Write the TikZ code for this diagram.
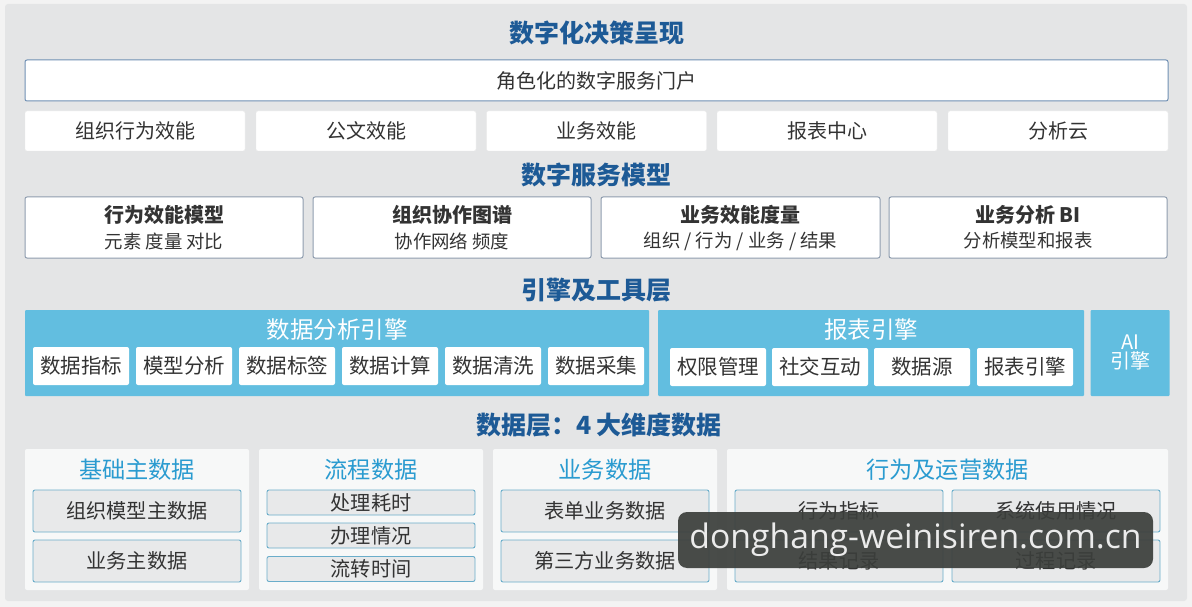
\documentclass[tikz,border=0pt]{standalone}
\usepackage{fontspec}
\setmainfont{Noto Sans CJK SC}
\newfontfamily\wmfont{Open Sans}
\definecolor{pagebg}{HTML}{F3F3F3}
\definecolor{panelbg}{HTML}{E4E5E6}
\definecolor{titleblue}{HTML}{1D5A96}
\definecolor{textdark}{HTML}{333333}
\definecolor{portalline}{HTML}{6F8FB3}
\definecolor{modelline}{HTML}{8E9CAE}
\definecolor{enginecyan}{HTML}{62BEE0}
\definecolor{datatitle}{HTML}{2A9BD0}
\definecolor{datapanel}{HTML}{F7F8F8}
\definecolor{databoxfill}{HTML}{E8E9EA}
\definecolor{databoxline}{HTML}{6AADCA}
\definecolor{wmbg}{HTML}{3B3E3B}
\tikzset{
  layertitle/.style={font=\fontsize{25}{27}\selectfont\bfseries, text=titleblue, inner sep=0pt},
  portalbox/.style={fill=white, draw=portalline, line width=1pt, rounded corners=2pt, inner sep=0pt,
    font=\fontsize{20}{22}\selectfont, text=textdark},
  appbox/.style={fill=white, draw=white!92!black, line width=0.4pt, rounded corners=2pt, inner sep=0pt,
    minimum width=220pt, minimum height=40pt, font=\fontsize{20}{22}\selectfont, text=textdark},
  modelbox/.style={fill=white, draw=modelline, line width=1pt, rounded corners=2pt, inner sep=0pt,
    minimum height=61pt},
  modeltitle/.style={font=\fontsize{20}{22}\selectfont\bfseries, text=textdark, inner sep=0pt},
  modelsub/.style={font=\fontsize{18.4}{20}\selectfont, text=textdark, inner sep=0pt},
  enginebox/.style={fill=enginecyan, draw=none, rounded corners=1pt, inner sep=0pt, minimum height=86pt},
  enginetitle/.style={font=\fontsize{23.5}{25}\selectfont, text=white, inner sep=0pt},
  chip/.style={fill=white, draw=none, rounded corners=2pt, inner sep=0pt, minimum height=38pt,
    font=\fontsize{20.5}{22}\selectfont, text=textdark},
  datapanelbox/.style={fill=datapanel, draw=none, rounded corners=2pt, inner sep=0pt, minimum height=141pt},
  datatitlebox/.style={font=\fontsize{23.2}{25}\selectfont, text=datatitle, inner sep=0pt},
  databox/.style={fill=databoxfill, draw=databoxline, line width=0.9pt, rounded corners=2pt, inner sep=0pt,
    minimum width=208pt, font=\fontsize{20.2}{22}\selectfont, text=textdark},
  watermark/.style={fill=wmbg, fill opacity=0.92, text opacity=1, draw=none, rounded corners=9pt,
    minimum width=475pt, minimum height=56pt, inner sep=0pt,
    font=\wmfont\fontsize{33.7}{36}\selectfont, text=white!92!black}
}
\begin{document}
\begin{tikzpicture}[x=1pt,y=-1pt]
\useasboundingbox (0,0) rectangle (1192,607);
\fill[pagebg] (0,0) rectangle (1192,607);
\fill[panelbg, rounded corners=3pt] (5,4) rectangle (1187,601);

% Layer 1
\node[layertitle] (t1) at (597,33) {数字化决策呈现};
\node[portalbox, minimum width=1143pt, minimum height=41pt] (portal) at (596.5,80.5) {角色化的数字服务门户};
\node[appbox] (a1) at (135,131) {组织行为效能};
\node[appbox] (a2) at (366,131) {公文效能};
\node[appbox] (a3) at (596.5,131) {业务效能};
\node[appbox] (a4) at (827,131) {报表中心};
\node[appbox] (a5) at (1058,131) {分析云};

% Layer 2
\node[layertitle] (t2) at (596,175) {数字服务模型};
\node[modelbox, minimum width=278pt] (m1) at (164,227.5) {};
\node[modelbox, minimum width=278pt] (m2) at (452,227.5) {};
\node[modelbox, minimum width=279pt] (m3) at (740.5,227.5) {};
\node[modelbox, minimum width=278pt] (m4) at (1028,227.5) {};
\node[modeltitle] (m1t) at ([yshift=12.5pt]m1.center) {行为效能模型};
\node[modelsub]   (m1s) at ([yshift=-13.5pt]m1.center) {元素 度量 对比};
\node[modeltitle] (m2t) at ([yshift=12.5pt]m2.center) {组织协作图谱};
\node[modelsub]   (m2s) at ([yshift=-13.5pt]m2.center) {协作网络 频度};
\node[modeltitle] (m3t) at ([yshift=12.5pt]m3.center) {业务效能度量};
\node[modelsub]   (m3s) at ([yshift=-13.5pt]m3.center) {组织 / 行为 / 业务 / 结果};
\node[modeltitle] (m4t) at ([yshift=12.5pt]m4.center) {业务分析 BI};
\node[modelsub]   (m4s) at ([yshift=-13.5pt]m4.center) {分析模型和报表};

% Layer 3
\node[layertitle] (t3) at (596,290) {引擎及工具层};
\node[enginebox, minimum width=624pt] (e1) at (337,353) {};
\node[enginebox, minimum width=426pt] (e2) at (871,353) {};
\node[enginebox, minimum width=79pt] (e3) at (1130,353) {};
\node[enginetitle] (e1t) at (337,330) {数据分析引擎};
\node[enginetitle] (e2t) at (871,330) {报表引擎};
\node[font=\fontsize{20}{22}\selectfont, text=white, align=center, inner sep=0pt] (e3t) at (1130,352) {AI\\[-3pt]引擎};
\foreach \n/\x/\t in {1/81/数据指标, 2/184/模型分析, 3/287/数据标签, 4/390/数据计算, 5/493/数据清洗, 6/596/数据采集}{
  \node[chip, minimum width=96pt] (c\n) at (\x,366) {\t};
}
\foreach \n/\x/\t in {1/718/权限管理, 2/820/社交互动, 3/922/数据源, 4/1025/报表引擎}{
  \node[chip, minimum width=96pt] (r\n) at (\x,367) {\t};
}

% Layer 4
\node[layertitle] (t4) at (599,425) {数据层：4 大维度数据};
\node[datapanelbox, minimum width=224pt] (p1) at (137,519.5) {};
\node[datapanelbox, minimum width=224pt] (p2) at (371,519.5) {};
\node[datapanelbox, minimum width=224pt] (p3) at (605,519.5) {};
\node[datapanelbox, minimum width=441pt] (p4) at (947.5,519.5) {};
\node[datatitlebox] (p1t) at (137,470) {基础主数据};
\node[datatitlebox] (p2t) at (371,470) {流程数据};
\node[datatitlebox] (p3t) at (605,470) {业务数据};
\node[datatitlebox] (p4t) at (947.5,470) {行为及运营数据};

\node[databox, minimum height=42pt] (d11) at (137,511) {组织模型主数据};
\node[databox, minimum height=42pt] (d12) at (137,561) {业务主数据};
\node[databox, minimum height=25pt] (d21) at (371,502.5) {处理耗时};
\node[databox, minimum height=25pt] (d22) at (371,535.5) {办理情况};
\node[databox, minimum height=25pt] (d23) at (371,569) {流转时间};
\node[databox, minimum height=42pt] (d31) at (605,511) {表单业务数据};
\node[databox, minimum height=42pt] (d32) at (605,561) {第三方业务数据};
\node[databox, minimum height=42pt] (d41) at (839,511) {行为指标};
\node[databox, minimum height=42pt] (d42) at (1056,511) {系统使用情况};
\node[databox, minimum height=42pt] (d43) at (839,561) {结果记录};
\node[databox, minimum height=42pt] (d44) at (1056,561) {过程记录};

% Watermark
\node[watermark] (wm) at (915.5,540) {donghang-weinisiren.com.cn};
\end{tikzpicture}
\end{document}
